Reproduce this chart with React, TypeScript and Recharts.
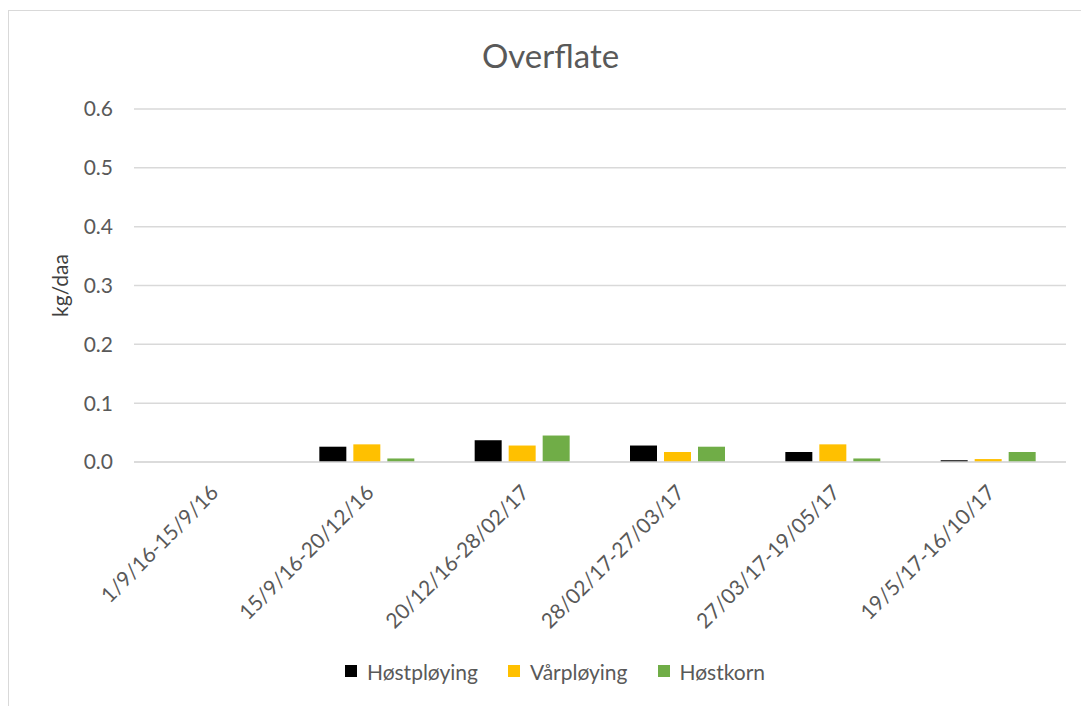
import React from "react";
import {
  BarChart,
  Bar,
  CartesianGrid,
  XAxis,
  YAxis,
  Legend,
  Label,
} from "recharts";

// periods on the x axis
const periods = [
  "1/9/16-15/9/16",
  "15/9/16-20/12/16",
  "20/12/16-28/02/17",
  "28/02/17-27/03/17",
  "27/03/17-19/05/17",
  "19/5/17-16/10/17",
];

// kg/daa per treatment
const hostploying = [0, 0.026, 0.037, 0.028, 0.017, 0.003];
const varploying = [0, 0.03, 0.028, 0.017, 0.03, 0.005];
const hostkorn = [0, 0.006, 0.045, 0.026, 0.006, 0.017];

const yTicks = [0, 0.1, 0.2, 0.3, 0.4, 0.5, 0.6];

const series = [
  { key: "Høstpløying", color: "#000000", values: hostploying },
  { key: "Vårpløying", color: "#FFC000", values: varploying },
  { key: "Høstkorn", color: "#70AD47", values: hostkorn },
];

const data = periods.map((label, i) => {
  const row: { [k: string]: string | number } = { label };
  series.forEach((s) => {
    row[s.key] = s.values[i];
  });
  return row;
});

const FONT = "Lato, 'Open Sans', sans-serif";
const TEXT = "#595959";

function PeriodTick(props: any) {
  const { x, y, payload } = props;
  return (
    <g transform={`translate(${x + 8},${y + 24})`}>
      <text
        textAnchor="end"
        transform="rotate(-45)"
        fontSize={21}
        fontFamily={FONT}
        fill={TEXT}
      >
        {payload.value}
      </text>
    </g>
  );
}

function LegendRow() {
  return (
    <div
      style={{
        display: "flex",
        justifyContent: "center",
        gap: 30,
        height: 22,
        marginLeft: 44,
        alignItems: "center",
        fontFamily: FONT,
        fontSize: 21,
        color: TEXT,
      }}
    >
      {series.map((s) => (
        <div key={s.key} style={{ display: "flex", alignItems: "center" }}>
          <span
            style={{
              width: 12,
              height: 12,
              background: s.color,
              display: "inline-block",
              marginRight: 10,
            }}
          />
          {s.key}
        </div>
      ))}
    </div>
  );
}

export default function App() {
  return (
    <div
      style={{
        position: "absolute",
        left: 0,
        top: 0,
        width: 1081,
        height: 706,
        overflow: "hidden",
        background: "#fff",
      }}
    >
      <div
        style={{
          position: "absolute",
          left: 8,
          top: 10,
          width: 1100,
          height: 720,
          border: "1px solid #D9D9D9",
        }}
      />
      <div
        style={{
          position: "absolute",
          top: 35,
          width: 1081,
          left: 10,
          textAlign: "center",
          fontFamily: FONT,
          fontSize: 33,
          color: TEXT,
        }}
      >
        Overflate
      </div>
      <div style={{ position: "absolute", left: 0, top: 0 }}>
        <BarChart
          width={1081}
          height={706}
          data={data}
          margin={{ top: 109, right: 15, bottom: 24, left: 0 }}
          barSize={27}
          barGap={7}
        >
          <CartesianGrid vertical={false} stroke="#D9D9D9" strokeWidth={1.5} />
          <XAxis
            dataKey="label"
            interval={0}
            height={198}
            tickLine={false}
            axisLine={{ stroke: "#D9D9D9", strokeWidth: 1.5 }}
            tick={<PeriodTick />}
          />
          <YAxis
            width={134}
            domain={[0, 0.6]}
            ticks={yTicks}
            tickFormatter={(v: number) => v.toFixed(1)}
            axisLine={false}
            tickLine={false}
            tickSize={0}
            tickMargin={21}
            tick={{ fontSize: 21, fontFamily: FONT, fill: TEXT }}
          >
            <Label
              value="kg/daa"
              angle={-90}
              position="center"
              dx={-6}
              style={{ fontSize: 21, fontFamily: FONT, fill: "#404040" }}
            />
          </YAxis>
          <Legend verticalAlign="bottom" content={() => <LegendRow />} />
          {series.map((s) => (
            <Bar
              key={s.key}
              dataKey={s.key}
              fill={s.color}
              isAnimationActive={false}
            />
          ))}
        </BarChart>
      </div>
    </div>
  );
}
